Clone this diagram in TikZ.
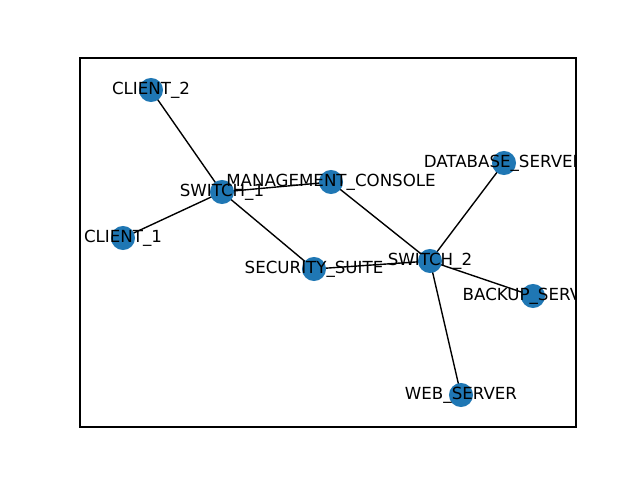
\documentclass[tikz,border=0pt]{standalone}
\usepackage{fontspec}
\setmainfont{DejaVu Sans}
\definecolor{tabblue}{HTML}{1F77B4}
\begin{document}
\begin{tikzpicture}[x=0.72pt,y=-0.72pt,
  dot/.style={circle,fill=tabblue,minimum size=17.3pt,inner sep=0pt},
  lab/.style={font=\fontsize{12pt}{14pt}\selectfont,inner sep=0pt},
  edge/.style={line width=1pt,black}]
\useasboundingbox (0,0) rectangle (640,480);
\coordinate (CLIENT_2) at (151,90);
\coordinate (SWITCH_1) at (222,192);
\coordinate (CLIENT_1) at (123,238);
\coordinate (MANAGEMENT_CONSOLE) at (331,182);
\coordinate (SECURITY_SUITE) at (314,269);
\coordinate (SWITCH_2) at (430,261);
\coordinate (DATABASE_SERVER) at (504,163);
\coordinate (BACKUP_SERVER) at (533,296);
\coordinate (WEB_SERVER) at (461,395);
\draw[edge] (CLIENT_2) -- (SWITCH_1);
\draw[edge] (CLIENT_1) -- (SWITCH_1);
\draw[edge] (SWITCH_1) -- (MANAGEMENT_CONSOLE);
\draw[edge] (SWITCH_1) -- (SECURITY_SUITE);
\draw[edge] (MANAGEMENT_CONSOLE) -- (SWITCH_2);
\draw[edge] (SECURITY_SUITE) -- (SWITCH_2);
\draw[edge] (SWITCH_2) -- (DATABASE_SERVER);
\draw[edge] (SWITCH_2) -- (BACKUP_SERVER);
\draw[edge] (SWITCH_2) -- (WEB_SERVER);
\foreach \n in {CLIENT_2,SWITCH_1,CLIENT_1,MANAGEMENT_CONSOLE,SECURITY_SUITE,SWITCH_2,DATABASE_SERVER,BACKUP_SERVER,WEB_SERVER}
  \node[dot] (d\n) at (\n) {};
\begin{scope}
\clip (80,58) rectangle (576,427);
\node[lab] (lCLIENT_2) at (CLIENT_2) {CLIENT\_2};
\node[lab] (lSWITCH_1) at (SWITCH_1) {SWITCH\_1};
\node[lab] (lCLIENT_1) at (CLIENT_1) {CLIENT\_1};
\node[lab] (lMANAGEMENT_CONSOLE) at (MANAGEMENT_CONSOLE) {MANAGEMENT\_CONSOLE};
\node[lab] (lSECURITY_SUITE) at (SECURITY_SUITE) {SECURITY\_SUITE};
\node[lab] (lSWITCH_2) at (SWITCH_2) {SWITCH\_2};
\node[lab] (lDATABASE_SERVER) at (DATABASE_SERVER) {DATABASE\_SERVER};
\node[lab] (lBACKUP_SERVER) at (BACKUP_SERVER) {BACKUP\_SERVER};
\node[lab] (lWEB_SERVER) at (WEB_SERVER) {WEB\_SERVER};
\end{scope}
\draw[line width=0.8pt,line join=miter] (80,58) rectangle (576,427);
\end{tikzpicture}
\end{document}
